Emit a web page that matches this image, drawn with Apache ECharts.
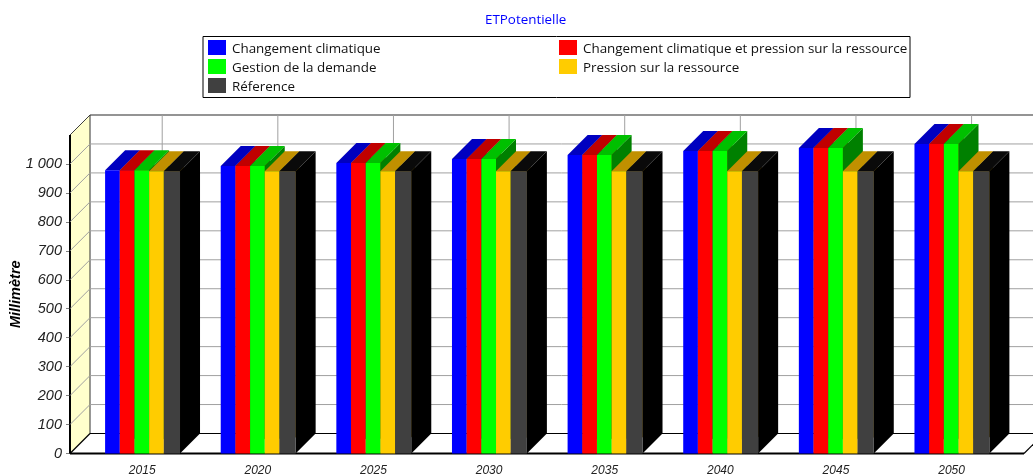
<!DOCTYPE html>
<html><head><meta charset="utf-8">
<style>html,body{margin:0;padding:0;background:#fff}#c{width:1033px;height:474px}</style>
<script src="https://cdn.jsdelivr.net/npm/echarts@6/dist/echarts.min.js"></script>
</head><body><div id="c"></div>
<script>
const categories = ['2015','2020','2025','2030','2035','2040','2045','2050'];
const yTicks = [0,100,200,300,400,500,600,700,800,900,1000];
const changementClimatique = [978,993,1003,1017,1031,1045,1055,1069];
const changementPression = [978,993,1003,1017,1031,1045,1055,1069];
const gestionDemande = [978,993,1003,1017,1031,1045,1055,1069];
const pressionRessource = [975,975,975,975,975,975,975,975];
const reference = [975,975,975,975,975,975,975,975];
const names = ['Changement climatique','Changement climatique et pression sur la ressource','Gestion de la demande','Pression sur la ressource','Réference'];
const valuesBySeries = [changementClimatique,changementPression,gestionDemande,pressionRessource,reference];
const frontColors = ['#0000ff','#ff0000','#00ff00','#ffcc00','#404040'];
const topColors = ['#0000c0','#c00000','#00c000','#c09000','#0a0a0a'];
const sideColors = ['#000080','#800000','#008000','#806000','#000000'];
const DEPTH = 20, AXIS_GAP = 14.4;
const barFrac = [0.127,0.127,0.127,0.127,0.14];
const barStart = -0.321;

function barRender(si){
  return function(params, api){
    const p = api.coord([api.value(0), api.value(1)]);
    const base = api.coord([api.value(0), 0]);
    const band = api.size([1,0])[0];
    let off = barStart; for(let k=0;k<si;k++) off += barFrac[k];
    const x0 = p[0] + off*band, x1 = x0 + barFrac[si]*band, y0 = p[1], yb = base[1];
    const poly = (pts,fill)=>({type:'polygon',shape:{points:pts},style:{fill:fill,stroke:null}});
    return {type:'group',children:[
      poly([[x1,y0],[x1+DEPTH,y0-DEPTH],[x1+DEPTH,yb-DEPTH],[x1,yb]], sideColors[si]),
      poly([[x0,y0],[x0+DEPTH,y0-DEPTH],[x1+DEPTH,y0-DEPTH],[x1,y0]], topColors[si]),
      {type:'rect',shape:{x:x0,y:y0,width:x1-x0,height:yb-y0},style:{fill:frontColors[si],stroke:null}}
    ]};
  };
}
function frameRender(params, api){
  const cs = params.coordSys;
  const L = cs.x - AXIS_GAP, T = cs.y, B = cs.y + cs.height, R = 1024;
  const ln = (x1,y1,x2,y2,c,w)=>({type:'line',shape:{x1,y1,x2,y2},style:{stroke:c,lineWidth:w}});
  return {type:'group',children:[
    {type:'polygon',shape:{points:[[L,T],[L+DEPTH,T-DEPTH],[L+DEPTH,B-DEPTH],[L,B]]},style:{fill:'#ffffcc',stroke:null}},
    ln(L+DEPTH,T-DEPTH,1033,T-DEPTH,'#707070',1.5),
    ln(L,T,L+DEPTH,T-DEPTH,'#404040',1),
    ln(L+DEPTH,T-DEPTH,L+DEPTH,B-DEPTH,'#303030',1),
    ln(L+DEPTH,B-DEPTH,1033,B-DEPTH,'#000',1.2),
    ln(L,B,L+DEPTH,B-DEPTH,'#000',1.2),
    ln(R,B,R+DEPTH,B-DEPTH,'#000',1.2),
    ln(L,T,L,B,'#000',2),
    ln(L,B,R,B,'#000',2)
  ]};
}
function gridRender(params, api){
  const y = api.coord([0, api.value(0)])[1];
  const cs = params.coordSys, L = cs.x - AXIS_GAP;
  if(api.value(0)===0) return {type:'group',children:[]};
  return {type:'group',children:[
    {type:'line',shape:{x1:L,y1:y,x2:L+DEPTH,y2:y-DEPTH},style:{stroke:'#a0a0a0',lineWidth:1}},
    {type:'line',shape:{x1:L+DEPTH,y1:y-DEPTH,x2:1033,y2:y-DEPTH},style:{stroke:'#a0a0a0',lineWidth:1}}
  ]};
}
function vGridRender(params, api){
  const x = api.coord([api.value(0),0])[0], cs = params.coordSys;
  return {type:'line',shape:{x1:x+DEPTH,y1:cs.y-DEPTH,x2:x+DEPTH,y2:cs.y+cs.height-DEPTH},style:{stroke:'#a0a0a0',lineWidth:1}};
}
const series = [
  {type:'custom',name:'frame',silent:true,renderItem:frameRender,data:[[0,0]],encode:{x:0,y:1},clip:false,z:1},
  {type:'custom',name:'ygrid',silent:true,renderItem:gridRender,data:yTicks.map(v=>[v]),encode:{y:0},clip:false,z:2},
  {type:'custom',name:'xgrid',silent:true,renderItem:vGridRender,data:categories.map((c,i)=>[i]),encode:{x:0},clip:false,z:2}
];
names.forEach((n,si)=>{
  series.push({type:'custom',name:n,renderItem:barRender(si),clip:false,z:3,
    itemStyle:{color:frontColors[si]},encode:{x:0,y:1},
    data:valuesBySeries[si].map((v,i)=>[i,v])});
});
const legendText = {rich:{a:{fontFamily:'Open Sans',fontSize:13.4,color:'#111',lineHeight:15,padding:[4,0,0,1]}}};
const chart = echarts.init(document.getElementById('c'),null,{renderer:'canvas'});
chart.setOption({
  animation:false,
  backgroundColor:'#fff',
  title:{text:'ETPotentielle',left:485,top:14,padding:0,textStyle:{fontFamily:'Open Sans',fontSize:13.4,fontWeight:'normal',color:'#0000ff'}},
  legend:[
    {data:[names[0],names[2],names[4]],formatter:'{a|{name}}',orient:'vertical',left:208,top:39,itemWidth:18,itemHeight:15,itemGap:2,icon:'rect',textStyle:legendText,padding:0},
    {data:[names[1],names[3]],formatter:'{a|{name}}',orient:'vertical',left:559,top:39,itemWidth:18,itemHeight:15,itemGap:2,icon:'rect',textStyle:legendText,padding:0}
  ],
  graphic:[{type:'rect',z:-1,shape:{x:203,y:36.5,width:707,height:61},style:{fill:'#fff',stroke:'#000',lineWidth:1}}],
  grid:{left:84.4,width:925,top:135,height:318.5,containLabel:false,outerBoundsMode:'none'},
  xAxis:{type:'category',data:categories,axisLine:{show:false},
    axisTick:{alignWithLabel:true,length:5,lineStyle:{color:'#808080'}},splitLine:{show:false},
    axisLabel:{fontFamily:'Liberation Sans',fontStyle:'italic',fontSize:12,color:'#222',margin:11}},
  yAxis:{type:'value',min:0,max:1100,interval:100,offset:AXIS_GAP,
    name:'Millimètre',nameLocation:'middle',nameGap:47,nameRotate:90,nameMoveOverlap:false,
    nameTextStyle:{fontFamily:'Liberation Sans',fontStyle:'italic',fontWeight:'bold',fontSize:14.5,color:'#000'},
    axisLine:{show:false},splitLine:{show:false},
    axisTick:{show:true,length:4,lineStyle:{color:'#808080'},customValues:yTicks},
    axisLabel:{customValues:yTicks,fontFamily:'Liberation Sans',fontStyle:'italic',fontSize:14.5,color:'#222',margin:8,padding:[5,0,0,0],
      formatter:v=>v>=1000?String(v).replace(/(\d)(\d{3})$/,'$1 $2'):String(v)}},
  series
});
</script></body></html>
